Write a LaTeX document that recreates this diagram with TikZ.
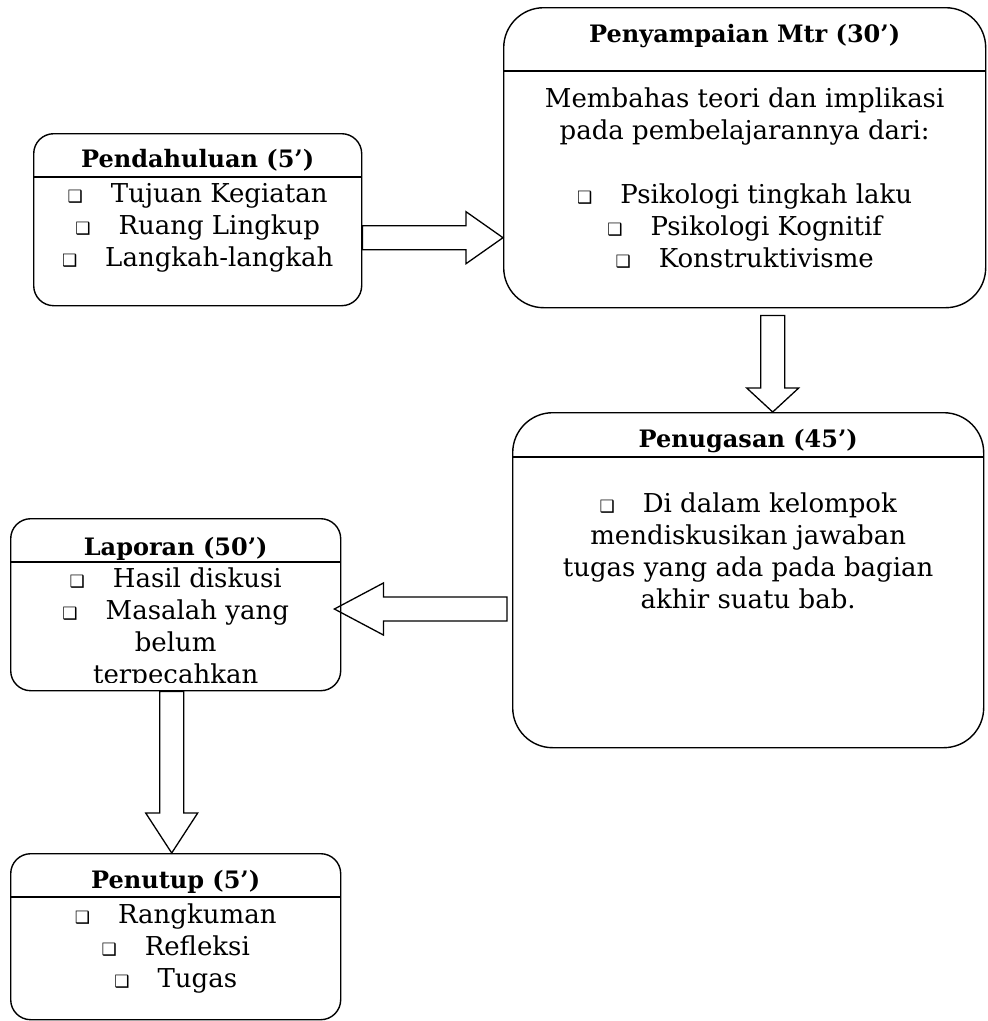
\documentclass[tikz,border=0pt]{standalone}
\usepackage{fontspec}
\setmainfont{DejaVu Serif}
\newfontfamily\symfont{DejaVu Sans}
\usetikzlibrary{calc}

% small square bullet, then a tab-like gap
\newcommand{\bul}{{\symfont\fontsize{17}{17}\selectfont ❑}\hspace{28pt}}

% block arrow: tail, tip, head length
\newcommand{\blockarrow}[3]{%
  \path (#1) coordinate (bt) (#2) coordinate (bp);
  \path ($(bp)!#3!(bt)$) coordinate (bh);
  \draw[barrow] ($(bt)!12pt!90:(bp)$) -- ($(bh)!12pt!-90:(bt)$)
    -- ($(bh)!26pt!-90:(bt)$) -- (bp) -- ($(bh)!26pt!90:(bt)$)
    -- ($(bh)!12pt!90:(bt)$) -- ($(bt)!12pt!-90:(bp)$) -- cycle;
}

\begin{document}
\begin{tikzpicture}[
    x=1pt, y=-1pt,
    box/.style={draw, line width=1.4pt, anchor=north west, inner sep=0pt},
    rule/.style={line width=1.4pt},
    title/.style={anchor=base, font=\fontsize{24}{32}\selectfont\bfseries},
    body/.style={anchor=base, align=center, inner sep=0pt, font=\fontsize{26}{32}\selectfont},
    barrow/.style={draw, line width=1.3pt, line join=miter}
]
\useasboundingbox (0,0) rectangle (988,1021);

% === Boxes ===
\node[box, rounded corners=20pt, minimum width=328pt, minimum height=172pt] (pend) at (33,133) {};
\node[box, rounded corners=40pt, minimum width=482pt, minimum height=300pt] (pyam) at (503,7) {};
\node[box, rounded corners=40pt, minimum width=471pt, minimum height=335pt] (pnug) at (512,412) {};
\node[box, rounded corners=20pt, minimum width=330pt, minimum height=172pt] (lapor) at (10,518) {};
\node[box, rounded corners=20pt, minimum width=330pt, minimum height=166pt] (ptup) at (10,853) {};

% title rules
\draw[rule] (pend.west |- 0,177) -- (pend.east |- 0,177);
\draw[rule] (pyam.west |- 0,71) -- (pyam.east |- 0,71);
\draw[rule] (pnug.west |- 0,457) -- (pnug.east |- 0,457);
\draw[rule] (lapor.west |- 0,562) -- (lapor.east |- 0,562);
\draw[rule] (ptup.west |- 0,897) -- (ptup.east |- 0,897);

% === Titles ===
\node[title] (pendT) at (pend.center |- 0,167) {Pendahuluan (5’)};
\node[title] (pyamT) at (pyam.center |- 0,42) {Penyampaian Mtr (30’)};
\node[title] (pnugT) at (pnug.center |- 0,447) {Penugasan (45’)};
\node[title] (laporT) at (lapor.center |- 0,555) {Laporan (50’)};
\node[title] (ptupT) at (ptup.center |- 0,888) {Penutup (5’)};

% === Contents (placed by the baseline of the last line) ===
\node[body] (pendB) at (pend.center |- 0,266)
    {\bul Tujuan Kegiatan\\ \bul Ruang Lingkup\\ \bul Langkah-langkah};
\node[body] (pyamB) at (pyam.center |- 0,267)
    {Membahas teori dan implikasi\\ pada pembelajarannya dari:\\[32pt]
     \bul Psikologi tingkah laku\\ \bul Psikologi Kognitif\\ \bul Konstruktivisme};
\node[body] (pnugB) at (pnug.center |- 0,608)
    {\bul Di dalam kelompok\\ mendiskusikan jawaban\\ tugas yang ada pada bagian\\ akhir suatu bab.};
\begin{scope}
  \clip (10,562) rectangle (340,682);
  \node[body] (laporB) at (lapor.center |- 0,683)
      {\bul Hasil diskusi\\ \bul Masalah yang\\ belum\\ terpecahkan};
\end{scope}
\node[body] (ptupB) at (ptup.center |- 0,987)
    {\bul Rangkuman\\ \bul Refleksi\\ \bul Tugas};

% === Arrows ===
\coordinate (a1) at ($(pend.east)+(0,18)$);
\blockarrow{a1}{pyam.west |- a1}{37pt}
\coordinate (a2) at ($(pyam.south)+(28,7)$);
\blockarrow{a2}{a2 |- pnug.north}{24pt}
\coordinate (a3) at ($(pnug.west |- 0,609)+(-5,0)$);
\blockarrow{a3}{$(lapor.east |- a3)+(-7,0)$}{49pt}
\coordinate (a4) at ($(lapor.south)+(-4,0)$);
\blockarrow{a4}{a4 |- ptup.north}{40pt}

\end{tikzpicture}
\end{document}
